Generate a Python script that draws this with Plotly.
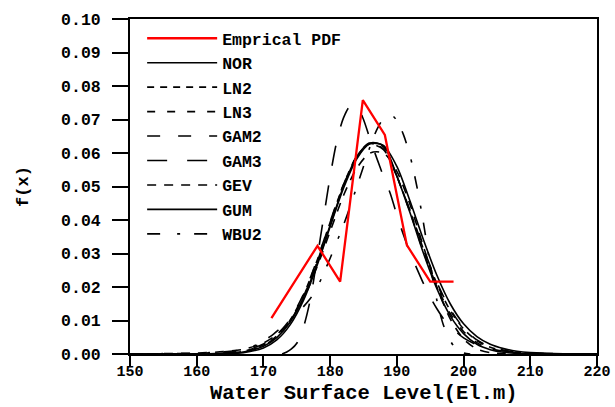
import plotly.graph_objects as go

# ---------------- data ----------------
EMP_X = [171.2, 178.1, 181.5, 184.9, 188.2, 191.5, 195.0, 198.5]
EMP_Y = [0.0107, 0.0323, 0.0216, 0.0758, 0.0654, 0.0325, 0.0216, 0.0216]

GRID_X = [150, 155, 160, 164, 167, 170, 172, 174, 176, 178, 180, 182, 184, 186,
          188, 190, 192, 194, 196, 198, 200, 202, 204, 206, 208, 210, 215, 220]

NOR_Y = [0, 0, 0.00001, 0.00013, 0.0006, 0.0023, 0.0049, 0.0095, 0.0168, 0.0267,
         0.0384, 0.0500, 0.0590, 0.0630, 0.0622, 0.0531, 0.0420, 0.0300, 0.0195,
         0.0114, 0.0061, 0.0029, 0.0013, 0.0005, 0.0002, 0.0001, 0, 0]
LN2_Y = [0, 0, 0.00002, 0.0002, 0.0008, 0.0027, 0.0054, 0.0101, 0.0176, 0.0277,
         0.0393, 0.0505, 0.0590, 0.0628, 0.0612, 0.0530, 0.0425, 0.0312, 0.0210,
         0.0130, 0.0075, 0.0040, 0.0020, 0.0010, 0.0005, 0.0002, 0.00003, 0]
LN3_Y = [0, 0, 0.00001, 0.00015, 0.0007, 0.0025, 0.0052, 0.0098, 0.0172, 0.0272,
         0.0389, 0.0503, 0.0591, 0.0631, 0.0618, 0.0530, 0.0422, 0.0305, 0.0202,
         0.0121, 0.0067, 0.0034, 0.0016, 0.0007, 0.0003, 0.0001, 0, 0]
GAM2_Y = [0, 0.00001, 0.00005, 0.0003, 0.0010, 0.0030, 0.0057, 0.0104, 0.0178, 0.0279,
          0.0395, 0.0506, 0.0588, 0.0625, 0.0610, 0.0531, 0.0427, 0.0315, 0.0214,
          0.0134, 0.0078, 0.0042, 0.0022, 0.0011, 0.0005, 0.0002, 0.00003, 0]
GEV_Y = [0.00003, 0.0001, 0.0003, 0.0007, 0.0014, 0.0033, 0.0058, 0.0100, 0.0165, 0.0258,
         0.0366, 0.0473, 0.0555, 0.0600, 0.0600, 0.0545, 0.0445, 0.0320, 0.0200,
         0.0105, 0.0045, 0.0015, 0.0004, 0.0001, 0, 0, 0, 0]
GUM_Y = [0, 0, 0, 0.00005, 0.0004, 0.0018, 0.0042, 0.0087, 0.0160, 0.0262,
         0.0380, 0.0495, 0.0583, 0.0628, 0.0622, 0.0560, 0.0455, 0.0340, 0.0235,
         0.0150, 0.0090, 0.0052, 0.0029, 0.0016, 0.0008, 0.0004, 0.00005, 0]

GAM3_X = [172.8, 173.5, 174.2, 175, 176, 177, 178, 179, 180, 181, 182, 183, 184, 185,
          186, 187, 188, 189, 190, 191, 192, 193, 194, 195, 196, 197, 198, 200, 202,
          204, 206, 208, 210, 212, 215, 220]
GAM3_Y = [0, 0.0006, 0.0015, 0.0032, 0.0080, 0.0160, 0.0280, 0.0405, 0.0530, 0.0635,
          0.0705, 0.0740, 0.0740, 0.0700, 0.0640, 0.0584, 0.0530, 0.0480, 0.0415,
          0.0355, 0.0300, 0.0255, 0.0210, 0.0170, 0.0135, 0.0105, 0.0082, 0.0048,
          0.0027, 0.0015, 0.0009, 0.0005, 0.0003, 0.00015, 0.00007, 0.00002]

WBU2_X = [150, 155, 160, 162, 165, 167, 169, 171, 173, 175, 177, 178, 179, 180, 181,
          182, 183, 184, 185, 186, 187, 188, 189, 190, 191, 192, 193, 194, 195, 196,
          197, 198, 199, 200, 201]
WBU2_Y = [0, 0.0001, 0.0002, 0.0004, 0.0008, 0.0014, 0.0028, 0.0052, 0.0085, 0.0120,
          0.0165, 0.0196, 0.0240, 0.0286, 0.0335, 0.0385, 0.0440, 0.0500, 0.0560,
          0.0620, 0.0670, 0.0703, 0.0716, 0.0697, 0.0654, 0.0590, 0.0500, 0.0390,
          0.0265, 0.0160, 0.0085, 0.0040, 0.0012, 0.0003, 0]

X_TICKS = [150, 160, 170, 180, 190, 200, 210, 220]
Y_TICKS = [0.00, 0.01, 0.02, 0.03, 0.04, 0.05, 0.06, 0.07, 0.08, 0.09, 0.10]
X_TITLE = "Water Surface Level(El.m)"
Y_TITLE = "f(x)"

FONT = "Liberation Mono, Courier New, monospace"

series = [
    ("NOR", GRID_X, NOR_Y, "solid"),
    ("LN2", GRID_X, LN2_Y, "7px,6px"),
    ("LN3", GRID_X, LN3_Y, "8px,12px"),
    ("GAM2", GRID_X, GAM2_Y, "13px,18px"),
    ("GAM3", GAM3_X, GAM3_Y, "20px,20px"),
    ("GEV", GRID_X, GEV_Y, "9px,8px"),
    ("GUM", GRID_X, GUM_Y, "solid"),
    ("WBU2", WBU2_X, WBU2_Y, "13px,17px,3px,14px"),
]

fig = go.Figure()
for i, (name, xs, ys, dash) in enumerate(series):
    fig.add_trace(go.Scatter(
        x=xs, y=ys, name=name, mode="lines",
        line=dict(color="black", width=1.6, dash=dash, shape="spline", smoothing=0.8),
        legendrank=i + 2,
    ))
fig.add_trace(go.Scatter(
    x=EMP_X, y=EMP_Y, name="Emprical PDF", mode="lines",
    line=dict(color="#ff0000", width=2.3), legendrank=1,
))

fig.update_layout(
    width=615, height=407,
    margin=dict(l=130, r=18, t=19, b=53, autoexpand=False),
    paper_bgcolor="white", plot_bgcolor="white",
    font=dict(family=FONT, color="black", size=16, weight="bold"),
    showlegend=True,
    legend=dict(
        x=0.026, y=0.994, xanchor="left", yanchor="top",
        bgcolor="rgba(0,0,0,0)", borderwidth=0,
        font=dict(family=FONT, size=16.5, weight="bold", color="black"),
        itemwidth=70, traceorder="normal",
    ),
    xaxis=dict(
        range=[150, 220], tickvals=X_TICKS, ticktext=[str(v) for v in X_TICKS],
        ticks="outside", ticklen=11, tickwidth=2, tickcolor="black",
        showline=True, linewidth=2, linecolor="black", mirror=True,
        showgrid=False, zeroline=False, automargin=False,
        ticklabelstandoff=-9,
        tickfont=dict(family=FONT, size=15, weight="bold"),
    ),
    yaxis=dict(
        range=[0, 0.10], tickvals=Y_TICKS, ticktext=[f"{v:.2f}" for v in Y_TICKS],
        ticks="outside", ticklen=16, tickwidth=2, tickcolor="black",
        showline=True, linewidth=2, linecolor="black", mirror=True,
        showgrid=False, zeroline=False, automargin=False,
        ticklabelstandoff=8,
        tickfont=dict(family=FONT, size=16.5, weight="bold"),
        title=dict(text=Y_TITLE, font=dict(family=FONT, size=17, weight="bold"), standoff=28),
    ),
    annotations=[dict(
        text=X_TITLE, xref="paper", yref="paper", x=0.5, y=-0.158,
        xanchor="center", yanchor="bottom", showarrow=False,
        font=dict(family=FONT, size=20.5, weight="bold", color="black"),
    )],
)

fig.write_html(
    "out.html",
    config={"displayModeBar": False},
    post_script="document.body.style.margin='0px';document.body.style.padding='0px';",
)
